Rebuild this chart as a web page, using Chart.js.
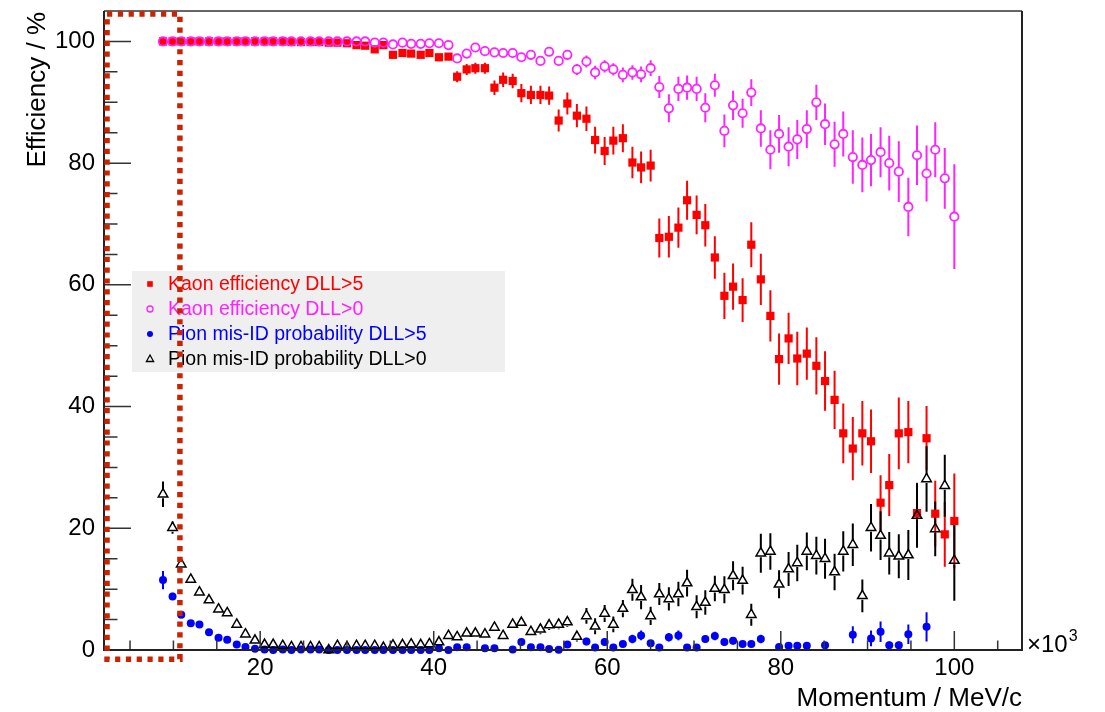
<!doctype html>
<html lang="en">
  <head>
    <meta charset="utf-8">
    <title>Kaon efficiency vs momentum</title>
    <script src="https://cdn.jsdelivr.net/npm/chart.js"></script>
    <style>
      body { margin: 0; background: #fff; }
      canvas { display: block; }
    </style>
  </head>
  <body>
    <canvas id="effChart" width="1105" height="712"></canvas>

    <script>

  // momentum bin centres (x10^3 MeV/c)
  const momentum = [
    8.8, 9.9, 10.9, 12.0, 13.0, 14.1, 15.2, 16.2, 17.3, 18.3,
    19.4, 20.5, 21.5, 22.6, 23.6, 24.7, 25.8, 26.8, 27.9, 28.9,
    30.0, 31.1, 32.1, 33.2, 34.2, 35.3, 36.4, 37.4, 38.5, 39.5,
    40.6, 41.7, 42.7, 43.8, 44.8, 45.9, 47.0, 48.0, 49.1, 50.1,
    51.2, 52.3, 53.3, 54.4, 55.4, 56.5, 57.6, 58.6, 59.7, 60.7,
    61.8, 62.9, 63.9, 65.0, 66.0, 67.1, 68.2, 69.2, 70.3, 71.3,
    72.4, 73.5, 74.5, 75.6, 76.6, 77.7, 78.8, 79.8, 80.9, 81.9,
    83.0, 84.1, 85.1, 86.2, 87.2, 88.3, 89.4, 90.4, 91.5, 92.5,
    93.6, 94.7, 95.7, 96.8, 97.8, 98.9, 100.0
  ];

  // Kaon efficiency DLL>5 (%)
  const kaonDLL5 = [
    100, 100, 100, 100, 100, 100, 100, 100, 100, 100,
    100, 100, 100, 100, 99.9, 99.9, 99.9, 99.9, 99.8, 99.8,
    99.7, 99.4, 99.3, 98.7, 99.4, 97.8, 98.1, 98.0, 97.8, 98.1,
    97.4, 97.5, 94.2, 95.4, 95.6, 95.6, 92.4, 93.7, 93.5, 91.5,
    91.2, 91.2, 91.1, 87.0, 89.8, 87.8, 87.3, 83.8, 82.0, 83.7,
    84.1, 80.1, 79.3, 79.6, 67.7, 67.9, 69.4, 73.9, 71.5, 69.8,
    64.5, 58.2, 59.7, 57.5, 66.6, 60.9, 54.9, 47.8, 51.2, 47.9,
    48.7, 46.7, 44.2, 41.1, 35.6, 33.1, 35.6, 34.3, 24.2, 27.1,
    35.6, 35.8, 22.5, 34.8, 22.4, 19.0, 21.2
  ];
  const kaonDLL5Err = [
    0.1, 0.1, 0.1, 0.1, 0.1, 0.1, 0.1, 0.1, 0.1, 0.1,
    0.1, 0.1, 0.1, 0.1, 0.1, 0.1, 0.1, 0.1, 0.1, 0.1,
    0.2, 0.2, 0.2, 0.3, 0.2, 0.4, 0.4, 0.4, 0.4, 0.4,
    0.5, 0.5, 0.9, 0.9, 0.9, 0.9, 1.2, 1.2, 1.2, 1.5,
    1.5, 1.5, 1.5, 1.8, 1.8, 1.9, 2.0, 2.2, 2.3, 2.3,
    2.3, 2.6, 2.6, 2.6, 3.2, 3.4, 3.3, 3.2, 3.2, 3.5,
    3.5, 3.8, 3.8, 3.6, 3.7, 4.2, 4.2, 4.2, 4.2, 4.4,
    4.3, 4.7, 4.9, 4.8, 4.9, 5.2, 5.3, 5.2, 4.5, 5.1,
    5.9, 5.1, 5.0, 5.3, 5.4, 5.3, 7.8
  ];

  // Kaon efficiency DLL>0 (%)
  const kaonDLL0 = [
    100, 100, 100, 100, 100, 100, 100, 100, 100, 100,
    100, 100, 100, 100, 100, 100, 100, 100, 100, 100,
    100, 100, 100, 99.8, 99.8, 99.5, 99.8, 99.6, 99.6, 99.7,
    99.7, 99.4, 97.2, 98.0, 99.0, 98.4, 98.2, 98.1, 98.1, 97.4,
    97.8, 96.8, 98.3, 96.8, 97.8, 95.4, 96.7, 94.9, 95.9, 95.4,
    94.5, 94.9, 94.6, 95.6, 92.5, 89.0, 92.2, 92.4, 92.2, 89.1,
    92.8, 85.3, 89.5, 88.2, 91.6, 85.7, 82.2, 84.8, 82.7, 83.9,
    85.6, 90.0, 86.4, 83.1, 84.8, 81.0, 79.7, 80.5, 81.8, 80.0,
    78.6, 72.8, 81.3, 78.3, 82.2, 77.5, 71.2
  ];
  const kaonDLL0Err = [
    0.1, 0.1, 0.1, 0.1, 0.1, 0.1, 0.1, 0.1, 0.1, 0.1,
    0.1, 0.1, 0.1, 0.1, 0.1, 0.1, 0.1, 0.1, 0.1, 0.1,
    0.1, 0.1, 0.1, 0.1, 0.1, 0.1, 0.1, 0.1, 0.1, 0.1,
    0.1, 0.3, 0.4, 0.3, 0.3, 0.3, 0.4, 0.4, 0.4, 0.5,
    0.5, 0.6, 0.6, 0.6, 0.6, 0.9, 1.0, 1.1, 1.0, 1.0,
    1.2, 1.2, 1.3, 1.3, 1.8, 2.3, 2.0, 2.0, 2.0, 2.4,
    1.9, 2.7, 2.4, 2.4, 2.2, 3.0, 3.2, 3.1, 3.2, 3.2,
    3.1, 2.9, 3.4, 3.7, 3.7, 4.4, 4.5, 4.3, 4.1, 4.5,
    5.0, 4.8, 4.9, 4.6, 4.5, 5.0, 8.6
  ];

  // Pion mis-ID probability DLL>5 (%), null = empty bin
  const pionDLL5 = [
    11.5, 8.8, 5.8, 4.4, 4.2, 2.9, 2.0, 1.7, 0.9, 0.5,
    0.2, 0.1, 0.0, 0.1, 0.0, 0.1, 0.1, 0.1, 0.0, 0.0,
    0.0, 0.0, 0.0, 0.0, 0.0, 0.0, 0.0, 0.0, 0.0, 0.0,
    0.3, 0.0, 0.45, 0.45, null, 0.3, 0.3, null, 0.1, 1.3,
    0.45, 0.45, 0.15, 0.05, 0.9, null, 1.4, 0.4, 1.3, 0.4,
    1.0, 1.8, 2.4, 1.1, 0.4, 2.1, 2.4, 0.4, 0.4, 1.8,
    2.3, 1.3, 1.5, 1.0, 1.0, 1.8, null, 0.5, 0.7, 0.7,
    0.7, null, 0.8, null, null, 2.5, null, 1.9, 3.0, 0.8,
    0.8, 2.6, null, 3.8, null, null, null
  ];
  const pionDLL5Err = [
    1.5, 0.6, 0.4, 0.3, 0.3, 0.3, 0.3, 0.3, 0.2, 0.2,
    0.2, 0.2, 0.2, 0.2, 0.2, 0.2, 0.2, 0.2, 0.2, 0.2,
    0.2, 0.2, 0.2, 0.2, 0.2, 0.2, 0.2, 0.2, 0.2, 0.2,
    0.2, 0.2, 0.3, 0.3, null, 0.3, 0.3, null, 0.2, 0.5,
    0.3, 0.3, 0.2, 0.2, 0.5, null, 0.6, 0.4, 0.6, 0.4,
    0.5, 0.7, 0.8, 0.5, 0.4, 0.7, 0.8, 0.4, 0.4, 0.6,
    0.7, 0.6, 0.6, 0.5, 0.5, 0.7, null, 0.4, 0.5, 0.5,
    0.5, null, 0.5, null, null, 1.4, null, 1.3, 1.7, 0.6,
    0.6, 1.6, null, 2.4, null, null, null
  ];

  // Pion mis-ID probability DLL>0 (%)
  const pionDLL0 = [
    25.6, 20.1, 14.1, 11.6, 9.5, 8.2, 6.7, 6.1, 4.2, 2.6,
    1.6, 0.9, 0.9, 0.7, 0.5, 0.5, 0.5, 0.5, 0.0, 0.7,
    0.5, 0.7, 0.7, 0.7, 0.4, 0.8, 0.85, 0.95, 0.85, 1.0,
    1.3, 2.35, 2.15, 2.75, 2.75, 2.6, 3.7, 2.35, 4.2, 4.5,
    3.0, 3.4, 4.1, 4.2, 4.6, 2.2, 5.6, 3.9, 6.0, 4.2,
    6.8, 9.9, 8.7, 5.6, 9.2, 8.4, 9.2, 11.0, 7.1, 7.8,
    10.1, 9.9, 12.2, 11.4, 5.8, 15.9, 16.2, 10.8, 13.3, 14.3,
    16.2, 15.5, 15.0, 12.8, 16.2, 17.3, 8.9, 20.1, 18.8, 15.9,
    15.4, 15.6, 22.1, 28.1, 19.9, 27.0, 14.7
  ];
  const pionDLL0Err = [
    2.1, 1.0, 0.6, 0.5, 0.4, 0.4, 0.4, 0.4, 0.4, 0.4,
    0.4, 0.3, 0.3, 0.3, 0.3, 0.3, 0.3, 0.3, 0.3, 0.3,
    0.3, 0.3, 0.3, 0.3, 0.3, 0.3, 0.3, 0.3, 0.3, 0.3,
    0.3, 0.5, 0.5, 0.5, 0.5, 0.5, 0.5, 0.5, 0.5, 0.5,
    0.5, 0.8, 0.8, 0.8, 0.8, 0.8, 1.3, 1.3, 1.4, 1.3,
    1.4, 1.8, 2.0, 1.5, 1.8, 1.9, 2.0, 2.2, 1.9, 2.0,
    2.1, 2.2, 2.4, 2.3, 1.8, 3.2, 3.0, 2.3, 2.8, 3.0,
    3.1, 3.1, 3.3, 3.0, 3.3, 3.5, 2.7, 3.9, 4.0, 3.5,
    3.6, 4.1, 5.3, 5.4, 4.5, 5.1, 6.6
  ];

  const seriesLabels = [
    'Kaon efficiency DLL>5',
    'Kaon efficiency DLL>0',
    'Pion mis-ID probability DLL>5',
    'Pion mis-ID probability DLL>0'
  ];

  // axis ticks
  const xTickValues = [20, 40, 60, 80, 100];
  const xTickLabels = ['20', '40', '60', '80', '100'];
  const xMinorTicks = [5, 10, 15, 25, 30, 35, 45, 50, 55, 65, 70, 75, 85, 90, 95, 105];
  const yTickValues = [0, 20, 40, 60, 80, 100];
  const yTickLabels = ['0', '20', '40', '60', '80', '100'];
  const yMinorTicks = [5, 10, 15, 25, 30, 35, 45, 50, 55, 65, 70, 75, 85, 90, 95];

  // highlighted momentum region (dotted box), in data units
  const boxMomentum = [2.35, 10.75];
  const boxEfficiency = [-1.5, 104.5];

  const FONT = '"Liberation Sans", Arial, Helvetica, sans-serif';

  // builds {x, y, err} points, skipping empty bins
  function makePoints(values, errors) {
    const pts = [];
    for (let i = 0; i < momentum.length; i++) {
      if (values[i] === null) continue;
      pts.push({ x: momentum[i], y: values[i], err: errors[i] });
    }
    return pts;
  }

  // draws a legend marker
  function drawMarker(ctx, style, x, y, color) {
    ctx.save();
    ctx.fillStyle = color;
    ctx.strokeStyle = color;
    ctx.lineWidth = 1.3;
    ctx.beginPath();
    if (style === 'rect') {
      ctx.fillRect(x - 2.8, y - 2.8, 5.6, 5.6);
    } else if (style === 'openCircle') {
      ctx.arc(x, y, 3, 0, Math.PI * 2);
      ctx.stroke();
    } else if (style === 'dot') {
      ctx.arc(x, y, 3, 0, Math.PI * 2);
      ctx.fill();
    } else {
      ctx.moveTo(x, y - 4);
      ctx.lineTo(x + 3.6, y + 2.5);
      ctx.lineTo(x - 3.6, y + 2.5);
      ctx.closePath();
      ctx.stroke();
    }
    ctx.restore();
  }

  const whiteBackground = {
    id: 'whiteBackground',
    beforeDraw(chart) {
      const ctx = chart.ctx;
      ctx.save();
      ctx.fillStyle = '#fff';
      ctx.fillRect(0, 0, chart.width, chart.height);
      ctx.restore();
    }
  };

  // vertical error bars, cut around open markers like ROOT does
  const errorBars = {
    id: 'errorBars',
    beforeDatasetsDraw(chart) {
      const ctx = chart.ctx;
      const yScale = chart.scales.y;
      chart.data.datasets.forEach((ds, di) => {
        const meta = chart.getDatasetMeta(di);
        ctx.save();
        ctx.strokeStyle = ds.borderColor;
        ctx.lineWidth = 2;
        meta.data.forEach((pt, i) => {
          const d = ds.data[i];
          if (!d.err) return;
          const top = yScale.getPixelForValue(Math.min(100, d.y + d.err));
          const bot = yScale.getPixelForValue(Math.max(0, d.y - d.err));
          const gap = ds.barGap;
          ctx.beginPath();
          if (top < pt.y - gap) { ctx.moveTo(pt.x, top); ctx.lineTo(pt.x, pt.y - gap); }
          if (bot > pt.y + gap) { ctx.moveTo(pt.x, pt.y + gap); ctx.lineTo(pt.x, bot); }
          ctx.stroke();
        });
        ctx.restore();
      });
    }
  };

  // ROOT style frame with inward ticks
  const rootFrame = {
    id: 'rootFrame',
    afterDatasetsDraw(chart) {
      const { ctx, chartArea: a, scales: { x, y } } = chart;
      ctx.save();
      ctx.strokeStyle = '#333';
      ctx.lineWidth = 1.5;
      ctx.beginPath();
      xTickValues.forEach(v => { const px = x.getPixelForValue(v); ctx.moveTo(px, a.bottom); ctx.lineTo(px, a.bottom - 19); });
      xMinorTicks.forEach(v => { const px = x.getPixelForValue(v); ctx.moveTo(px, a.bottom); ctx.lineTo(px, a.bottom - 9.5); });
      yTickValues.forEach(v => { const py = y.getPixelForValue(v); ctx.moveTo(a.left, py); ctx.lineTo(a.left + 27, py); });
      yMinorTicks.forEach(v => { const py = y.getPixelForValue(v); ctx.moveTo(a.left, py); ctx.lineTo(a.left + 13.5, py); });
      ctx.stroke();

      // frame
      ctx.lineWidth = 2;
      ctx.strokeStyle = '#666';
      ctx.beginPath();
      ctx.moveTo(a.left, a.top); ctx.lineTo(a.right, a.top);
      ctx.stroke();
      ctx.strokeStyle = '#222';
      ctx.beginPath();
      ctx.moveTo(a.right, a.top); ctx.lineTo(a.right, a.bottom);
      ctx.lineTo(a.left, a.bottom); ctx.lineTo(a.left, a.top);
      ctx.stroke();
      ctx.restore();
    }
  };

  // axis titles, legend and the dotted box
  const rootText = {
    id: 'rootText',
    afterDraw(chart) {
      const { ctx, chartArea: a, scales: { x, y } } = chart;
      ctx.save();
      ctx.fillStyle = '#000';

      // y title
      ctx.save();
      ctx.translate(38, a.top + 1);
      ctx.rotate(-Math.PI / 2);
      ctx.font = '26px ' + FONT;
      ctx.textAlign = 'right';
      ctx.textBaseline = 'middle';
      ctx.fillText('Efficiency / %', 0, 0);
      ctx.restore();

      // x title
      ctx.font = '26px ' + FONT;
      ctx.textAlign = 'right';
      ctx.textBaseline = 'alphabetic';
      ctx.fillText('Momentum / MeV/c', a.right, 706);

      // x10^3
      ctx.textAlign = 'left';
      ctx.font = '24px ' + FONT;
      ctx.fillText('\u00d710', a.right + 5, a.bottom + 2);
      const w = ctx.measureText('\u00d710').width;
      ctx.font = '16px ' + FONT;
      ctx.fillText('3', a.right + 6 + w, a.bottom - 9);

      // legend
      const legColors = chart.data.datasets.map(ds => ds.borderColor);
      const legStyles = ['rect', 'openCircle', 'dot', 'triangle'];
      ctx.fillStyle = '#efefef';
      ctx.fillRect(132, 271, 373, 101);
      ctx.font = '19.5px ' + FONT;
      ctx.textAlign = 'left';
      ctx.textBaseline = 'middle';
      seriesLabels.forEach((label, k) => {
        const ly = 284 + k * 25;
        drawMarker(ctx, legStyles[k], 150, ly, legColors[k]);
        ctx.fillStyle = legColors[k];
        ctx.fillText(label, 168, ly + 1);
      });

      // dotted highlight box
      const bx0 = x.getPixelForValue(boxMomentum[0]);
      const bx1 = x.getPixelForValue(boxMomentum[1]);
      const by0 = y.getPixelForValue(boxEfficiency[1]);
      const by1 = y.getPixelForValue(boxEfficiency[0]);
      ctx.strokeStyle = '#cc2200';
      ctx.lineWidth = 5.5;
      ctx.setLineDash([5.2, 5.6]);
      ctx.strokeRect(bx0, by0, bx1 - bx0, by1 - by0);
      ctx.restore();
    }
  };

  const ctx1 = document.getElementById('effChart').getContext('2d');

  const chart = new Chart(ctx1, {
    type: 'scatter',
    data: {
      datasets: [
        {
          label: seriesLabels[0],
          data: makePoints(kaonDLL5, kaonDLL5Err),
          pointStyle: 'rect',
          pointRadius: 5.8,
          borderWidth: 0,
          borderColor: '#ff0000',
          backgroundColor: '#ff0000',
          barGap: 0,
          order: 4
        },
        {
          label: seriesLabels[1],
          data: makePoints(kaonDLL0, kaonDLL0Err),
          pointStyle: 'circle',
          pointRadius: 4.2,
          borderWidth: 1.8,
          borderColor: '#ff22ff',
          backgroundColor: 'rgba(0,0,0,0)',
          barGap: 4.5,
          order: 3
        },
        {
          label: seriesLabels[2],
          data: makePoints(pionDLL5, pionDLL5Err),
          pointStyle: 'circle',
          pointRadius: 4,
          borderWidth: 0,
          borderColor: '#0000ff',
          backgroundColor: '#0000ff',
          barGap: 0,
          order: 2
        },
        {
          label: seriesLabels[3],
          data: makePoints(pionDLL0, pionDLL0Err),
          pointStyle: 'triangle',
          pointRadius: 5.5,
          borderWidth: 1.5,
          borderColor: '#000000',
          backgroundColor: 'rgba(0,0,0,0)',
          barGap: 4,
          order: 1
        }
      ]
    },
    options: {
      responsive: false,
      animation: false,
      devicePixelRatio: 1,
      clip: false,
      layout: { padding: { top: 11, right: 83, left: 0, bottom: 0 } },
      plugins: {
        legend: { display: false },
        tooltip: { enabled: false }
      },
      scales: {
        x: {
          type: 'linear',
          min: 2,
          max: 107.8,
          bounds: 'data',
          grid: { display: false, drawTicks: false },
          border: { display: false },
          afterBuildTicks: axis => { axis.ticks = xTickValues.map(v => ({ value: v })); },
          afterFit: axis => { axis.height = 62; axis.paddingLeft = 0; axis.paddingRight = 0; },
          ticks: {
            autoSkip: false,
            maxRotation: 0,
            padding: 4,
            color: '#000',
            font: { family: FONT, size: 24 },
            callback: (value, index) => xTickLabels[index]
          }
        },
        y: {
          type: 'linear',
          min: 0,
          max: 105,
          bounds: 'data',
          grid: { display: false, drawTicks: false },
          border: { display: false },
          afterBuildTicks: axis => { axis.ticks = yTickValues.map(v => ({ value: v })); },
          afterFit: axis => { axis.width = 104; axis.paddingTop = 0; axis.paddingBottom = 0; },
          ticks: {
            autoSkip: false,
            padding: 9,
            color: '#000',
            font: { family: FONT, size: 24 },
            callback: (value, index) => yTickLabels[index]
          }
        }
      }
    },
    plugins: [whiteBackground, errorBars, rootFrame, rootText]
  });

    </script>
  </body>
</html>
